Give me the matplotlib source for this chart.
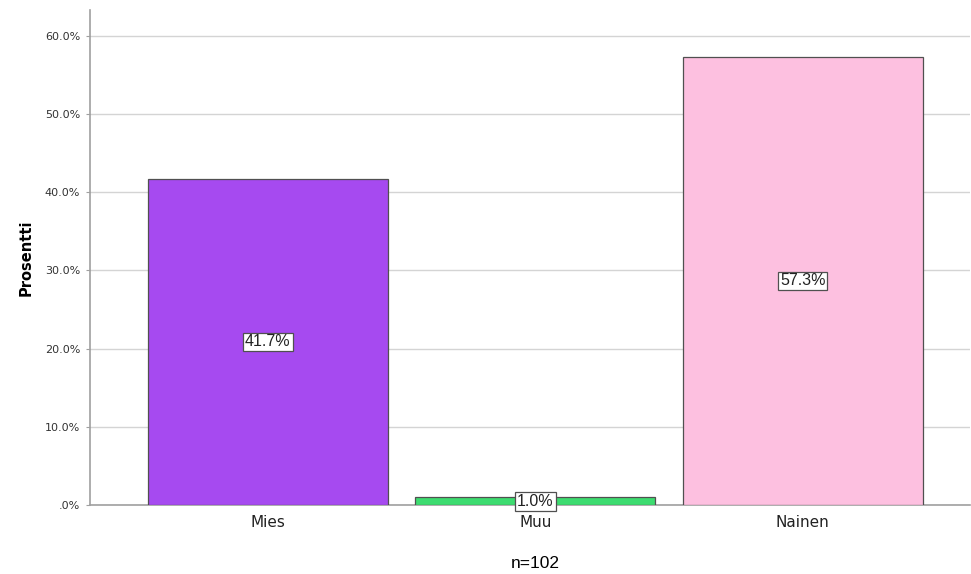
import matplotlib

matplotlib.use("Agg")

import matplotlib.pyplot as plt
from matplotlib.ticker import FuncFormatter

categories = ["Mies", "Muu", "Nainen"]
percent = [41.7, 1.0, 57.3]
bar_colors = ["#a64af0", "#3ddc70", "#fdc0e0"]
n_total = 102

plt.rcParams["font.family"] = ["DejaVu Sans"]

fig = plt.figure(figsize=(9.71, 5.74), dpi=100)
ax = fig.add_axes((0.0927, 0.1202, 0.906, 0.8624))

x = range(len(categories))
ax.bar(x, percent, width=0.897, color=bar_colors, edgecolor="#505050",
       linewidth=0.9, zorder=3)

for xi, v in zip(x, percent):
    ax.text(xi, v / 2, f"{v:.1f}%", ha="center", va="center", fontsize=11.5,
            family="Liberation Sans", color="#222222", zorder=5,
            bbox=dict(boxstyle="square,pad=0.12", fc="white", ec="#505050", lw=0.9))

ax.set_xlim(-0.665, 2.624)
ax.set_ylim(0, 63.3)
ax.set_yticks([0, 10, 20, 30, 40, 50, 60])
ax.yaxis.set_major_formatter(
    FuncFormatter(lambda v, _: ".0%" if v == 0 else f"{v:.1f}%"))
ax.set_xticks(list(x))
ax.set_xticklabels(categories, fontsize=11, color="#222222")
ax.tick_params(axis="y", labelsize=8, labelcolor="#333333", length=3,
               color="#a0a0a0", pad=4)
ax.tick_params(axis="x", length=0, pad=7)

ax.grid(axis="y", color="#d4d4d4", lw=1.0, zorder=0)
for side in ("top", "right"):
    ax.spines[side].set_visible(False)
for side in ("left", "bottom"):
    ax.spines[side].set_color("#a0a0a0")
    ax.spines[side].set_linewidth(1.2)

ax.set_ylabel("Prosentti", fontsize=10.5, fontweight="bold", labelpad=8)
fig.text(535 / 971, 1 - 563 / 574, f"n={n_total}", ha="center", va="center",
         fontsize=12.5, family="Liberation Sans")

fig.savefig("out.png", dpi=100)
